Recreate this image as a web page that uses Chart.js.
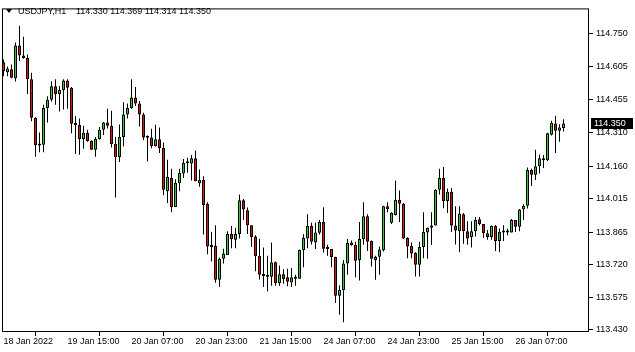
<!DOCTYPE html>
<html>
<head>
<meta charset="utf-8">
<script src="https://cdn.jsdelivr.net/npm/chart.js@4/dist/chart.umd.min.js"></script>
<style>
    html, body { margin: 0; padding: 0; background: #fff; }
    #wrap { width: 635px; height: 352px; }
</style>
</head>
<body>
<div id="wrap"><canvas id="priceChart" width="635" height="352"></canvas></div>
<script>
// USDJPY H1, one entry per bar (oldest first)
const opens = [
    114.623, 114.579, 114.592, 114.552, 114.698, 114.654, 114.643, 114.548, 114.376, 114.258,
    114.255, 114.419, 114.456, 114.516, 114.481, 114.500, 114.542, 114.510, 114.349, 114.343,
    114.281, 114.309, 114.272, 114.233, 114.281, 114.322, 114.354, 114.340, 114.258, 114.199,
    114.290, 114.390, 114.419, 114.466, 114.439, 114.390, 114.289, 114.288, 114.250, 114.280,
    114.241, 114.048, 114.107, 113.977, 114.083, 114.127, 114.172, 114.171, 114.195, 114.083,
    114.098, 113.992, 113.804, 113.804, 113.652, 113.746, 113.763, 113.857, 113.831, 113.857,
    114.007, 113.963, 113.896, 113.845, 113.760, 113.675, 113.675, 113.666, 113.730, 113.637,
    113.677, 113.664, 113.640, 113.657, 113.657, 113.785, 113.837, 113.892, 113.819, 113.862,
    113.910, 113.793, 113.790, 113.754, 113.581, 113.605, 113.725, 113.819, 113.807, 113.740,
    113.834, 113.936, 113.825, 113.740, 113.755, 113.784, 113.980, 113.907, 113.942, 114.010,
    113.992, 113.839, 113.804, 113.772, 113.719, 113.799, 113.863, 113.884, 113.895, 114.054,
    114.107, 114.004, 114.045, 113.895, 113.869, 113.945, 113.869, 113.843, 113.869, 113.922,
    113.901, 113.860, 113.843, 113.892, 113.825, 113.863, 113.863, 113.863, 113.919, 113.889,
    113.966, 113.983, 114.142, 114.121, 114.159, 114.195, 114.186, 114.300, 114.350, 114.318,
    114.330
];
const highs = [
    114.636, 114.605, 114.614, 114.712, 114.786, 114.737, 114.658, 114.577, 114.378, 114.310,
    114.434, 114.472, 114.539, 114.548, 114.518, 114.548, 114.548, 114.513, 114.384, 114.372,
    114.340, 114.322, 114.275, 114.290, 114.334, 114.357, 114.416, 114.407, 114.290, 114.346,
    114.445, 114.439, 114.548, 114.513, 114.451, 114.398, 114.297, 114.327, 114.344, 114.332,
    114.265, 114.188, 114.148, 114.101, 114.148, 114.192, 114.197, 114.209, 114.230, 114.145,
    114.115, 113.998, 113.866, 113.896, 113.752, 113.791, 113.869, 113.892, 113.884, 114.033,
    114.013, 113.975, 113.896, 113.851, 113.835, 113.796, 113.760, 113.819, 113.734, 113.716,
    113.699, 113.701, 113.705, 113.675, 113.787, 113.857, 113.945, 113.907, 113.907, 113.919,
    113.976, 113.809, 113.790, 113.755, 113.628, 113.740, 113.834, 113.828, 113.822, 113.910,
    113.998, 113.945, 113.828, 113.760, 113.801, 113.983, 113.998, 113.954, 114.095, 114.051,
    113.995, 113.842, 113.819, 113.775, 113.822, 113.954, 113.886, 113.954, 114.056, 114.148,
    114.156, 114.060, 114.062, 113.980, 113.980, 113.950, 113.914, 113.914, 113.933, 113.933,
    113.901, 113.875, 113.895, 113.897, 113.882, 113.896, 113.880, 113.924, 113.919, 113.968,
    113.989, 114.153, 114.148, 114.233, 114.212, 114.209, 114.309, 114.362, 114.385, 114.347,
    114.369
];
const lows = [
    114.561, 114.561, 114.552, 114.538, 114.629, 114.639, 114.482, 114.360, 114.202, 114.222,
    114.222, 114.354, 114.448, 114.434, 114.404, 114.413, 114.416, 114.307, 114.214, 114.211,
    114.237, 114.269, 114.233, 114.202, 114.278, 114.299, 114.328, 114.243, 114.020, 114.178,
    114.249, 114.372, 114.416, 114.428, 114.337, 114.275, 114.180, 114.239, 114.247, 114.218,
    114.030, 113.995, 113.954, 113.977, 114.048, 114.107, 114.130, 114.095, 114.092, 114.068,
    113.854, 113.766, 113.734, 113.639, 113.620, 113.725, 113.763, 113.793, 113.793, 113.837,
    113.919, 113.857, 113.799, 113.690, 113.653, 113.620, 113.600, 113.626, 113.625, 113.624,
    113.634, 113.623, 113.620, 113.626, 113.657, 113.708, 113.793, 113.810, 113.790, 113.854,
    113.774, 113.760, 113.708, 113.549, 113.496, 113.463, 113.675, 113.804, 113.664, 113.649,
    113.809, 113.781, 113.712, 113.652, 113.675, 113.778, 113.954, 113.901, 113.939, 113.910,
    113.834, 113.748, 113.748, 113.667, 113.667, 113.748, 113.746, 113.807, 113.895, 114.033,
    113.972, 113.950, 113.866, 113.810, 113.775, 113.813, 113.809, 113.796, 113.845, 113.895,
    113.840, 113.831, 113.831, 113.781, 113.775, 113.825, 113.851, 113.863, 113.866, 113.869,
    113.919, 113.971, 114.071, 114.098, 114.127, 114.151, 114.183, 114.297, 114.218, 114.268,
    114.314
];
const closes = [
    114.583, 114.596, 114.554, 114.698, 114.654, 114.643, 114.548, 114.376, 114.253, 114.252,
    114.419, 114.456, 114.516, 114.481, 114.500, 114.542, 114.510, 114.349, 114.343, 114.281,
    114.309, 114.272, 114.233, 114.281, 114.322, 114.354, 114.340, 114.258, 114.199, 114.290,
    114.390, 114.419, 114.466, 114.439, 114.390, 114.287, 114.286, 114.250, 114.280, 114.241,
    114.054, 114.112, 113.977, 114.086, 114.130, 114.174, 114.175, 114.195, 114.092, 114.098,
    113.986, 113.801, 113.799, 113.652, 113.746, 113.769, 113.857, 113.834, 113.857, 114.007,
    113.966, 113.896, 113.843, 113.757, 113.675, 113.669, 113.666, 113.730, 113.637, 113.677,
    113.655, 113.643, 113.664, 113.661, 113.785, 113.840, 113.892, 113.822, 113.863, 113.910,
    113.791, 113.790, 113.754, 113.581, 113.608, 113.725, 113.816, 113.807, 113.737, 113.834,
    113.936, 113.822, 113.746, 113.755, 113.787, 113.980, 113.968, 113.951, 114.010, 113.992,
    113.836, 113.801, 113.769, 113.719, 113.799, 113.866, 113.884, 113.895, 114.054, 114.107,
    114.004, 114.045, 113.895, 113.872, 113.948, 113.869, 113.836, 113.869, 113.919, 113.901,
    113.860, 113.843, 113.892, 113.825, 113.866, 113.864, 113.864, 113.919, 113.889, 113.966,
    113.983, 114.142, 114.121, 114.159, 114.195, 114.186, 114.306, 114.353, 114.318, 114.332,
    114.350
];

const xTickIdx = [0, 16, 32, 48, 64, 80, 96, 112, 128];
const xTickLabels = ['18 Jan 2022', '19 Jan 15:00', '20 Jan 07:00', '20 Jan 23:00', '21 Jan 15:00',
    '24 Jan 07:00', '24 Jan 23:00', '25 Jan 15:00', '26 Jan 07:00'];
const yTicks = [114.750, 114.605, 114.455, 114.310, 114.160, 114.015, 113.865, 113.720, 113.575, 113.430];

const symbolTitle = 'USDJPY,H1';
const lastIdx = closes.length - 1;

const FONT = { family: '"Liberation Sans", Arial, sans-serif', size: 9 };
const BULL = '#36c936';
const BEAR = '#e01212';

const wicks = lows.map((lo, i) => ({ x: i, y: [lo, highs[i]] }));
const bodies = opens.map((o, i) => ({ x: i, y: [o, closes[i]] }));
const bodyColors = opens.map((o, i) => closes[i] >= o ? BULL : BEAR);

// frame round the plot, title line and the current price box
const mtDecor = {
    id: 'mtDecor',
    afterDraw(chart) {
        const { ctx, chartArea: a, scales } = chart;
        ctx.save();
        ctx.strokeStyle = '#000';
        ctx.lineWidth = 1;
        ctx.strokeRect(a.left + 0.5, a.top + 0.5, a.right - a.left - 1, a.bottom - a.top - 1);

        ctx.fillStyle = '#000';
        ctx.beginPath();
        ctx.moveTo(6, 9);
        ctx.lineTo(12, 9);
        ctx.lineTo(9, 13);
        ctx.closePath();
        ctx.fill();

        ctx.font = FONT.size + 'px ' + FONT.family;
        ctx.textBaseline = 'alphabetic';
        ctx.textAlign = 'left';
        ctx.fillText(symbolTitle, 18, 14);
        const ohlc = [opens[lastIdx], highs[lastIdx], lows[lastIdx], closes[lastIdx]]
            .map(v => v.toFixed(3)).join(' ');
        ctx.fillText(ohlc, 76, 14);

        const yPix = Math.round(scales.y.getPixelForValue(closes[lastIdx]));
        ctx.fillRect(a.right + 2, yPix - 6, 42, 11);
        ctx.fillStyle = '#fff';
        ctx.textBaseline = 'middle';
        ctx.fillText(closes[lastIdx].toFixed(3), a.right + 5, yPix);
        ctx.restore();
    }
};

const ctx = document.getElementById('priceChart').getContext('2d');
new Chart(ctx, {
    type: 'bar',
    data: {
        datasets: [{
            data: bodies,
            order: 0,
            grouped: false,
            barThickness: 3,
            minBarLength: 2,
            backgroundColor: bodyColors,
            borderColor: '#000',
            borderWidth: 1,
            borderSkipped: false,
            inflateAmount: 0
        }, {
            data: wicks,
            order: 1,
            grouped: false,
            barThickness: 1,
            backgroundColor: '#000',
            borderWidth: 0,
            inflateAmount: 0
        }]
    },
    options: {
        responsive: false,
        animation: false,
        devicePixelRatio: 1,
        layout: { padding: { left: 2, top: 3, right: 0, bottom: 0 } },
        plugins: { legend: { display: false }, tooltip: { enabled: false } },
        scales: {
            x: {
                type: 'linear',
                offset: false,
                min: -0.375,
                max: 146.375,
                afterFit: s => { s.height = 20; },
                afterBuildTicks: s => { s.ticks = xTickIdx.map(v => ({ value: v })); },
                grid: { drawOnChartArea: false, color: '#000', tickLength: 4 },
                border: { display: false },
                ticks: {
                    autoSkip: false,
                    maxRotation: 0,
                    align: 'start',
                    padding: 0,
                    color: '#000',
                    font: FONT,
                    callback: v => xTickLabels[xTickIdx.indexOf(v)]
                }
            },
            y: {
                position: 'right',
                min: 113.419,
                max: 114.864,
                afterFit: s => { s.width = 46; },
                afterBuildTicks: s => { s.ticks = yTicks.map(v => ({ value: v })); },
                grid: { drawOnChartArea: false, color: '#000', tickLength: 4 },
                border: { display: false },
                ticks: {
                    padding: 3,
                    color: '#000',
                    font: FONT,
                    callback: v => v.toFixed(3)
                }
            }
        }
    },
    plugins: [mtDecor]
});
</script>
</body>
</html>
